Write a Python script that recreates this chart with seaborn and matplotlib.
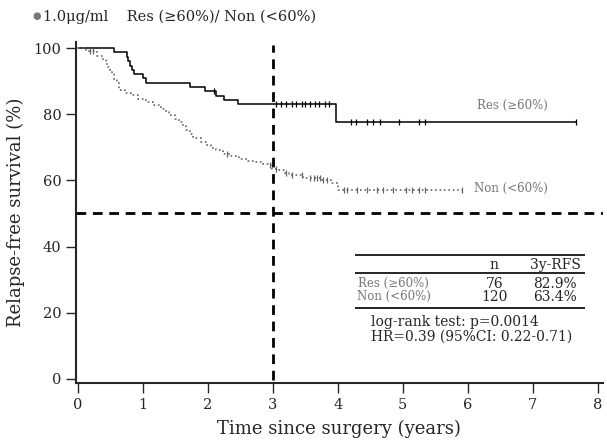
import numpy as np
import pandas as pd
import seaborn as sns
import matplotlib.pyplot as plt

# Kaplan-Meier step values (years, % relapse-free)
res_time = [0, 0.55, 0.76, 0.78, 0.80, 0.83, 0.86, 1.00, 1.05, 1.73, 1.95, 2.12, 2.25, 2.47, 3.97, 7.67]
res_surv = [100, 98.7, 97.4, 96.1, 94.7, 93.4, 92.1, 90.8, 89.5, 88.2, 86.9, 85.6, 84.3, 83.0, 77.5, 77.5]

non_time = [0, 0.12, 0.30, 0.38, 0.44, 0.47, 0.49, 0.52, 0.56, 0.60, 0.64, 0.72, 0.82, 0.92,
            1.05, 1.15, 1.28, 1.35, 1.41, 1.50, 1.56, 1.62, 1.67, 1.73, 1.78, 1.82, 1.90, 1.97,
            2.05, 2.13, 2.23, 2.35, 2.48, 2.62, 2.74, 2.85, 2.94, 2.99, 3.10, 3.18, 3.25, 3.46,
            3.76, 3.90, 4.00, 5.91]
non_surv = [100, 99.2, 97.5, 96.3, 95.3, 94.2, 93.3, 92.3, 90.5, 89.3, 87.2, 86.4, 85.7, 84.7,
            83.7, 82.7, 81.7, 80.7, 79.7, 78.7, 77.7, 76.5, 75.2, 74.0, 73.2, 72.7, 71.5, 70.6,
            69.8, 69.1, 68.1, 67.3, 66.6, 66.0, 65.6, 65.0, 64.6, 63.4, 63.0, 62.2, 61.6, 60.6,
            60.1, 59.1, 57.0, 57.0]

# censored observations (tick marks)
res_censor = [2.10, 3.05, 3.12, 3.20, 3.30, 3.36, 3.45, 3.50, 3.58, 3.65, 3.72, 3.80, 3.87,
              4.20, 4.28, 4.45, 4.55, 4.65, 4.95, 5.25, 5.35, 7.67]
non_censor = [0.18, 0.24, 2.30, 2.96, 3.05, 3.20, 3.30, 3.45, 3.58, 3.63, 3.68, 3.73, 3.78, 3.83,
              4.10, 4.15, 4.30, 4.45, 4.60, 4.70, 4.85, 5.05, 5.15, 5.25, 5.35, 5.91]

groups = ["Res (≥60%)", "Non (<60%)"]
n_patients = [76, 120]
rfs_3y = ["82.9%", "63.4%"]

df = pd.concat([
    pd.DataFrame({"time": res_time, "surv": res_surv, "group": groups[0]}),
    pd.DataFrame({"time": non_time, "surv": non_surv, "group": groups[1]}),
])

sns.set_style("ticks")
plt.rcParams["font.family"] = ["DejaVu Serif", "DejaVu Sans"]

fig = plt.figure(figsize=(6.07, 4.43), dpi=100)
ax = fig.add_axes([0.125, 0.135, 0.868, 0.77])

sns.lineplot(data=df[df.group == groups[0]], x="time", y="surv", estimator=None,
             drawstyle="steps-post", color="black", lw=1.1, ax=ax)
sns.lineplot(data=df[df.group == groups[1]], x="time", y="surv", estimator=None,
             drawstyle="steps-post", color="#666666", lw=1.2, ls=":", ax=ax)


def surv_at(times, surv, t):
    idx = np.searchsorted(times, t, side="right") - 1
    return np.array(surv)[idx]


ax.plot(res_censor, surv_at(res_time, res_surv, res_censor), ls="none", marker="|",
        ms=4.5, mew=0.9, color="black")
ax.plot(non_censor, surv_at(non_time, non_surv, non_censor), ls="none", marker="|",
        ms=4.5, mew=0.9, color="#666666")

# median and 3-year reference lines
ax.axhline(50, color="black", lw=2, ls=(0, (3.5, 2.4)))
ax.axvline(3, ymin=0.01, ymax=0.99, color="black", lw=2, ls=(0, (3.5, 2.4)))

ax.text(6.15, 82.7, groups[0], fontsize=8.5, color="#777777", va="center")
ax.text(6.10, 57.7, groups[1], fontsize=8.5, color="#777777", va="center")

# summary table
ax.hlines([37.4, 31.9, 21.3], 4.26, 7.8, color="black", lw=1.2)
ax.text(6.41, 34.4, "n", fontsize=10, ha="center", va="center")
ax.text(7.35, 34.4, "3y-RFS", fontsize=10, ha="center", va="center")
for y, g, n, r in zip([28.7, 24.8], groups, n_patients, rfs_3y):
    ax.text(4.86, y, g, fontsize=8.5, color="#777777", ha="center", va="center")
    ax.text(6.41, y, str(n), fontsize=10, ha="center", va="center")
    ax.text(7.35, y, r, fontsize=10, ha="center", va="center")
ax.text(4.52, 17.3, "log-rank test: p=0.0014", fontsize=10, va="center")
ax.text(4.52, 12.8, "HR=0.39 (95%CI: 0.22-0.71)", fontsize=10, va="center")

ax.set_xlim(-0.03, 8.08)
ax.set_ylim(-1.3, 101.8)
ax.set_xticks(range(0, 9))
ax.set_yticks(range(0, 101, 20))
ax.tick_params(axis="both", labelsize=10.5, width=1, length=7, direction="out")
ax.set_xlabel("Time since surgery (years)", fontsize=13, labelpad=6)
ax.set_ylabel("Relapse-free survival (%)", fontsize=13, labelpad=6)
for side in ["left", "bottom"]:
    ax.spines[side].set_linewidth(1.5)
sns.despine(ax=ax)

fig.text(0.053, 0.962, "●", fontsize=7, color="#777777", va="center")
fig.text(0.071, 0.962, "1.0μg/ml    Res (≥60%)/ Non (<60%)", fontsize=10.5, va="center")

fig.savefig("out.png", dpi=100)
